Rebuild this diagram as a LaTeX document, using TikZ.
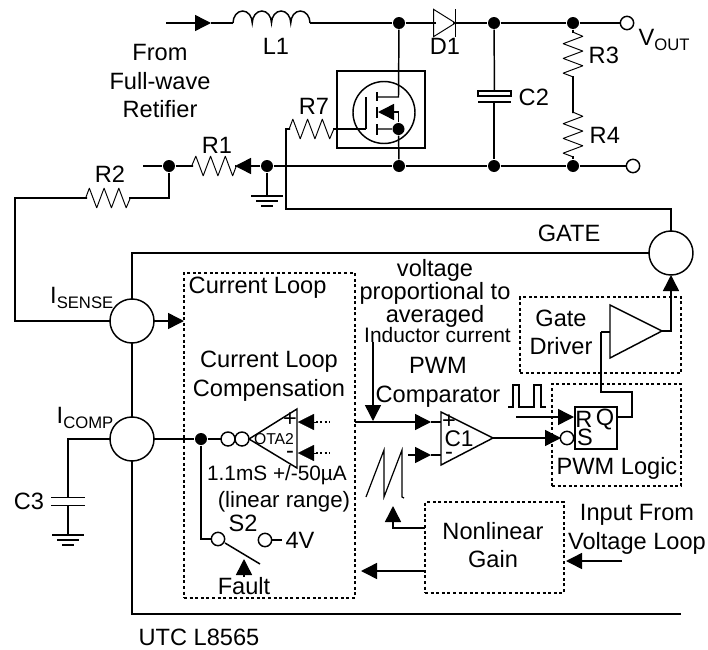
\documentclass[tikz,border=0pt]{standalone}
\usepackage{fontspec}
\setmainfont{Liberation Sans}
\usepackage{circuitikz}
\usetikzlibrary{arrows.meta}

\ctikzset{bipoles/length=41pt, bipoles/thickness=0.65}
\ctikzset{bipoles/resistor/height=.36, bipoles/capacitor/width=.13, bipoles/capacitor/height=.62}
\newcommand{\sublab}[2]{#1\raisebox{-3.5pt}{\fontsize{12.5}{12.5}\selectfont #2}}
\newcommand{\gndbars}[1]{
	\draw (#1) ++(-16, 0) -- ++(32, 0);
	\draw (#1) ++(-11, 5) -- ++(22, 0);
	\draw (#1) ++(-6, 10) -- ++(12, 0);
}

\tikzset{
	lab/.style={inner sep=0pt, align=center, font=\fontsize{17.7}{21.5}\selectfont},
	smalllab/.style={lab, font=\fontsize{15.7}{18}\selectfont},
	dot/.style={circle, fill=black, draw=none, inner sep=0pt, minimum size=9pt},
	pin/.style={circle, draw, fill=white, inner sep=0pt, minimum size=10pt, outer sep=0pt},
	port/.style={circle, draw, inner sep=0pt, minimum size=33pt, outer sep=0pt},
	dotbox/.style={draw, dash pattern=on 2.2pt off 2pt, inner sep=0pt, outer sep=0pt},
	plainbox/.style={draw, inner sep=0pt, outer sep=0pt},
	tip/.style={-{Triangle[length=12pt, width=12pt]}},
	faint/.style={dash pattern=on 1.6pt off 1.6pt, line width=0.9pt}
}

\begin{document}
\begin{tikzpicture}[x=0.75pt, y=-0.75pt, line width=1.1pt]
	\useasboundingbox (0, 0) rectangle (708, 650);

	% junctions and pins
	\node[dot] (sw) at (399, 23) {};
	\node[dot] (c2t) at (494, 23) {};
	\node[dot] (r3t) at (573, 23) {};
	\node[pin] (vout) at (627, 23) {};
	\node[dot] (r1in) at (169, 166) {};
	\node[dot] (gndj) at (267, 166) {};
	\node[dot] (srcj) at (399, 166) {};
	\node[dot] (c2b) at (494, 166) {};
	\node[dot] (r4b) at (573, 166) {};
	\node[pin] (rtn) at (633, 166) {};
	\node[dot] (srcm) at (398.5, 129) {};

	% ports
	\node[port] (isense) at (132, 321) {};
	\node[port] (icomp) at (132, 439) {};
	\node[port] (gatep) at (671, 253) {};

	% power stage
	\coordinate (inp) at (166, 23);
	\coordinate (inm) at (211, 23);
	\coordinate (l1a) at (233, 23);
	\coordinate (l1b) at (310, 23);
	\coordinate (d1a) at (436, 23);
	\coordinate (d1b) at (453, 23);
	\draw[tip] (inp) -- (inm);
	\draw (inm) -- (l1a);
	\draw (l1a) \foreach \k in {1,...,4} {arc[start angle=180, end angle=360, x radius=9.625, y radius=12]};
	\draw (l1b) -- (sw) -- (d1a);
	\draw (d1a) to[empty diode] (d1b);
	\draw (d1b) -- (c2t) -- (r3t) -- (vout);
	\draw (gndj) -- (srcj) -- (c2b) -- (r4b) -- (rtn);

	\node[plainbox, minimum width=24.75pt, minimum height=4pt] (c2box) at (494.5, 93.5) {};
	\coordinate (c2pl) at (478, 102);
	\coordinate (c2pr) at (511, 102);
	\coordinate (c2m) at (494, 102);
	\draw (c2t) -- (c2box);
	\draw (c2pl) -- (c2pr);
	\draw (c2m) -- (c2b);

	\coordinate (r3a) at (573, 31);
	\coordinate (r3b) at (573, 78);
	\coordinate (r4a) at (573, 113);
	\coordinate (r4b2) at (573, 156);
	\draw (r3t) -- (r3a) to[american resistor] (r3b) -- (r4a) to[american resistor] (r4b2) -- (r4b);

	% MOSFET
	\node[plainbox, minimum width=66pt, minimum height=57.75pt] (fetbox) at (381, 109.5) {};
	\node[circle, draw, inner sep=0pt, minimum size=46.5pt, outer sep=0pt] (fet) at (384, 112.5) {};
	\coordinate (gt) at (366, 97);
	\coordinate (gb) at (366, 129);
	\coordinate (dr) at (377, 97);
	\coordinate (drr) at (398.5, 97);
	\coordinate (bodyl) at (378, 112);
	\coordinate (bodyr) at (398.5, 112);
	\coordinate (srcl) at (377, 129);
	\draw (gt) -- (gb);
	\draw (377, 92) -- (377, 101);
	\draw (377, 107) -- (377, 118);
	\draw (377, 124) -- (377, 135);
	\draw (dr) -- (drr) -- (sw);
	\draw (srcl) -- (srcm) -- (srcj);
	\draw (srcm) -- (bodyr);
	\draw[tip] (bodyr) -- (bodyl);

	% R7, gate drive line
	\coordinate (r7a) at (290, 129);
	\coordinate (r7b) at (333, 129);
	\coordinate (gtl) at (286, 129);
	\coordinate (gtb) at (286, 209);
	\draw (gb) -- (r7b) to[american resistor] (r7a) -- (gtl) -- (gtb) -| (gatep);

	% R1, R2, sense line
	\coordinate (r1open) at (143, 166);
	\coordinate (r1a) at (193, 166);
	\coordinate (r1b) at (235, 166);
	\coordinate (r2j) at (169, 198);
	\coordinate (r2a) at (129, 198);
	\coordinate (r2b) at (87, 198);
	\coordinate (lft) at (15, 198);
	\draw (r1open) -- (r1in) -- (r1a) to[american resistor] (r1b);
	\draw[tip] (gndj) -- (r1b);
	\draw (r1in) -- (r2j) -- (r2a) to[american resistor] (r2b) -- (lft) |- (isense);
	\coordinate (gnd1) at (267, 196);
	\draw (gndj) -- (gnd1);
	\gndbars{gnd1}

	% IC rails
	\coordinate (botr) at (681, 614);
	\draw (isense) |- (gatep);
	\draw (isense) -- (icomp);
	\draw (icomp) |- (botr);

	% C3
	\coordinate (c3t) at (68, 492);
	\coordinate (c3b) at (68, 511);
	\coordinate (gnd2) at (68, 535);
	\draw (icomp) -| (c3t) to[capacitor] (c3b) -- (gnd2);
	\gndbars{gnd2}

	% boxes
	\node[dotbox, minimum width=128.25pt, minimum height=243.75pt] (loopbox) at (269.5, 435.5) {};
	\node[dotbox, minimum width=120.75pt, minimum height=57pt] (drvbox) at (600.5, 335) {};
	\node[dotbox, minimum width=96.75pt, minimum height=76.5pt] (logicbox) at (616.5, 435) {};
	\node[dotbox, minimum width=104.25pt, minimum height=68.25pt] (gainbox) at (494.5, 547.5) {};
	\draw[tip] (isense) -- (loopbox.west |- isense);

	% OTA2
	\node[dot] (otaj) at (201, 439) {};
	\node[circle, draw, inner sep=0pt, minimum size=10.5pt, outer sep=0pt] (ota1) at (228, 439) {};
	\node[circle, draw, inner sep=0pt, minimum size=10.5pt, outer sep=0pt] (ota2) at (242, 439) {};
	\coordinate (otaa) at (249, 439);
	\coordinate (otat) at (297, 409);
	\coordinate (otab) at (297, 468);
	\draw (icomp) -- (otaj) -- (ota1);
	\draw (otaa) -- (otat) -- (otab) -- cycle;
	\coordinate (otap) at (298, 422);
	\coordinate (otapb) at (316, 422);
	\coordinate (otapf) at (330, 422);
	\coordinate (otam) at (298, 453);
	\coordinate (otamb) at (316, 453);
	\coordinate (otamf) at (330, 453);
	\draw[tip, line width=0.1pt] (otapb) -- (otap);
	\draw[tip, line width=0.1pt] (otamb) -- (otam);
	\draw[faint] (otapb) -- (otapf);
	\draw[faint] (otamb) -- (otamf);

	% S2
	\node[pin] (s2a) at (218, 539) {};
	\node[pin] (s2b) at (265, 540) {};
	\coordinate (s2c) at (201, 539);
	\coordinate (s2d) at (260, 564);
	\coordinate (s2e) at (225, 543);
	\coordinate (s2f) at (282, 540);
	\coordinate (fltb) at (244, 577);
	\coordinate (fltt) at (244, 559);
	\draw (otaj) -- (s2c) -- (s2a);
	\draw (s2e) -- (s2d);
	\draw (s2b) -- (s2f);
	\draw[tip] (fltb) -- (fltt);

	% C1
	\coordinate (c1t) at (441, 412);
	\coordinate (c1b) at (441, 465);
	\coordinate (c1a) at (493, 438);
	\coordinate (c1p) at (441, 422);
	\coordinate (c1m) at (441, 455);
	\coordinate (c1pm) at (431, 422);
	\coordinate (c1mm) at (431, 455);
	\coordinate (vpa) at (355, 422);
	\coordinate (vma) at (408, 455);
	\coordinate (avgt) at (373, 342);
	\coordinate (avgb) at (373, 421);
	\draw (c1t) -- (c1a) -- (c1b) -- cycle;
	\draw[tip] (vpa) -- (c1pm);
	\draw (c1pm) -- (c1p);
	\draw[tip] (vma) -- (c1mm);
	\draw (c1mm) -- (c1m);
	\draw[tip] (avgt) -- (avgb);

	% sawtooth and pulses
	\draw[line width=0.9pt] (366, 497) -- (384, 450) -- (384, 497) -- (402, 450) -- (402, 497) -- (404, 498);
	\draw[line width=0.9pt] (508, 407) -- (513, 407) -- (513, 385) -- (519, 385) -- (519, 407) -- (534, 407) -- (534, 385) -- (541, 385) -- (541, 407) -- (546, 407);

	% RS latch
	\node[plainbox, minimum width=31.5pt, minimum height=31.5pt] (rsbox) at (596, 428) {};
	\node[circle, draw, inner sep=0pt, minimum size=10pt, outer sep=0pt] (sinv) at (567, 438) {};
	\coordinate (rin) at (516, 417);
	\coordinate (rtip) at (574, 417);
	\coordinate (sprev) at (561, 438);
	\coordinate (qo) at (617, 417);
	\coordinate (q1) at (632, 392);
	\coordinate (q2) at (601, 392);
	\coordinate (q3) at (601, 332);
	\draw[tip] (rin) -- (rtip);
	\draw[tip] (c1a) -- (sprev);
	\draw (qo) -| (q1) -- (q2) -- (q3);

	% gate driver
	\coordinate (drvt) at (610, 305);
	\coordinate (drvb) at (610, 358);
	\coordinate (drva) at (662, 331);
	\coordinate (drvi) at (610, 332);
	\draw (drvt) -- (drva) -- (drvb) -- cycle;
	\draw (q3) -- (drvi);
	\draw[tip] (drva) -| (gatep);

	% nonlinear gain
	\coordinate (gainr) at (425, 528);
	\coordinate (sawtip) at (393, 506);
	\coordinate (gainl) at (425, 571);
	\coordinate (looptip) at (361, 571);
	\coordinate (vlin) at (622, 561);
	\coordinate (vltip) at (566, 561);
	\draw[tip] (gainr) -| (sawtip);
	\draw[tip] (gainl) -- (looptip);
	\draw[tip] (vlin) -- (vltip);

	% labels
	\node[lab] (frm) at (160, 81) {From\\Full-wave\\Retifier};
	\node[lab] (l1) at (276, 46) {L1};
	\node[lab] (d1) at (445, 46) {D1};
	\node[lab, anchor=west] (c2) at (518, 97) {C2};
	\node[lab, anchor=west] (r3) at (588, 55) {R3};
	\node[lab, anchor=west] (r4) at (589, 135) {R4};
	\node[lab, anchor=west] (vo) at (638, 40) {\sublab{V}{OUT}};
	\node[lab] (r7) at (314, 106) {R7};
	\node[lab] (r1) at (217, 145) {R1};
	\node[lab] (r2) at (110, 174) {R2};
	\node[lab] (gt2) at (569, 233) {GATE};
	\node[lab, anchor=east] (isl) at (114, 298) {\sublab{I}{SENSE}};
	\node[lab, anchor=east] (icl) at (114, 418) {\sublab{I}{COMP}};
	\node[lab] (c3) at (29, 501) {C3};
	\node[lab, anchor=west] (cl) at (188, 288) {Current Loop};
	\node[lab] (clc) at (269, 376) {Current Loop\\Compensation};
	\node[lab, font=\fontsize{11.8}{12}\selectfont] (otal) at (274, 439) {OTA2};
	\node[lab] (op) at (290, 420) {+};
	\node[lab] (om) at (290, 455) {-};
	\node[lab, font=\fontsize{15.6}{16}\selectfont] (gm) at (277, 475) {1.1mS +/-50µA};
	\node[lab, font=\fontsize{16.7}{17}\selectfont] (lin) at (284, 502) {(linear range)};
	\node[lab] (s2) at (243, 523) {S2};
	\node[lab] (fv) at (300, 540) {4V};
	\node[lab] (flt) at (244, 586) {Fault};
	\node[lab, font=\fontsize{17.7}{16}\selectfont] (vlt) at (435, 293.5) {voltage\\proportional to\\averaged};
	\node[smalllab] (ind) at (437.5, 335) {Inductor current};
	\node[lab] (pwm) at (438, 382.5) {PWM\\Comparator};
	\node[lab] (cp) at (449, 422) {+};
	\node[lab] (cm) at (449, 456) {-};
	\node[lab, font=\fontsize{17}{17}\selectfont] (c1l) at (459, 439) {C1};
	\node[lab] (rl) at (584, 419) {R};
	\node[lab] (ql) at (605, 419) {Q};
	\node[lab] (sl) at (585, 437) {S};
	\node[lab] (gd) at (561, 332.5) {Gate\\Driver};
	\node[lab] (pl) at (617, 468) {PWM Logic};
	\node[lab] (ng) at (493, 545) {Nonlinear\\Gain};
	\node[lab] (ivl) at (637, 529.5) {Input From\\Voltage Loop};
	\node[lab] (utc) at (199, 637) {UTC L8565};
\end{tikzpicture}
\end{document}
